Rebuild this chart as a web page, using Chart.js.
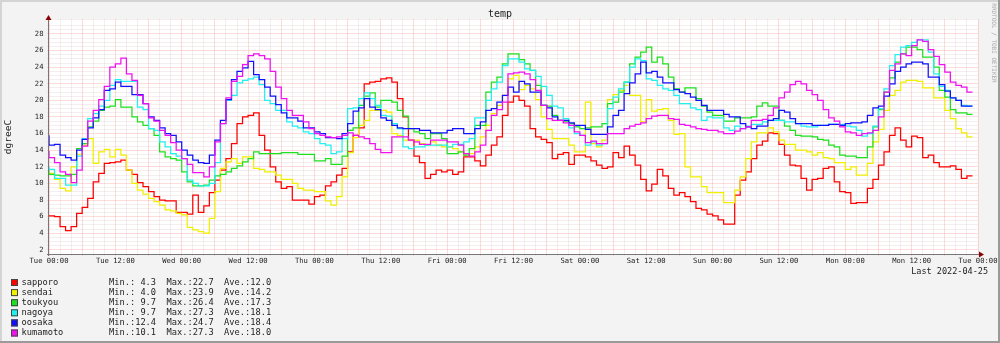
<!DOCTYPE html>
<html>
<head>
<meta charset="utf-8">
<script src="https://cdn.jsdelivr.net/npm/chart.js@4.4.1/dist/chart.umd.min.js"></script>
<style>
  body { margin: 0; background: #f3f3f3; }
  #wrap { position: relative; width: 1000px; height: 343px; }
</style>
</head>
<body>
<div id="wrap"><canvas id="nchart" width="1000" height="343"></canvas></div>
<script>
// hourly temperatures, Tue 00:00 -> Mon 23:00
const sapporo = [6.1,6.1,6.0,4.8,4.3,4.8,6.4,7.1,8.2,10.2,
 11.2,12.4,12.5,12.6,12.8,11.6,11.1,10.1,9.6,9.0,
 8.4,8.0,7.9,7.9,6.5,6.5,6.3,8.6,6.5,7.3,
 8.9,10.4,11.6,13.0,14.8,17.2,18.0,18.2,18.5,15.8,
 14.0,12.0,10.2,9.4,9.6,8.0,8.0,8.0,7.5,8.4,
 8.6,9.7,10.2,11.0,11.8,13.8,15.8,16.7,22.0,22.2,
 22.3,22.6,22.7,22.2,20.2,18.0,15.2,13.3,12.5,10.6,
 11.1,11.6,11.4,11.6,11.1,11.4,13.2,13.2,12.7,12.1,
 13.4,14.6,15.6,18.2,19.8,20.5,20.0,19.3,16.6,15.6,
 15.3,14.9,13.0,13.5,13.7,12.3,13.4,13.4,13.2,12.7,
 12.2,11.8,12.0,13.7,13.1,14.5,13.4,12.2,10.5,9.1,
 9.9,11.7,10.9,9.4,8.6,8.9,8.4,7.8,7.0,6.8,
 6.3,6.1,5.6,5.1,5.1,8.6,10.4,11.4,13.0,14.6,
 15.1,16.1,16.0,14.7,13.4,12.2,12.1,10.6,9.2,10.5,
 10.6,11.8,12.0,10.2,9.0,8.9,7.6,7.7,7.7,9.4,
 10.5,12.2,13.8,15.8,16.7,15.2,14.4,15.7,15.5,13.1,
 13.4,12.5,12.0,12.0,12.1,11.7,10.6,10.9];

const sendai = [11.4,11.2,10.5,9.4,9.1,12.0,13.5,14.6,15.4,12.4,
 13.8,14.1,13.2,14.1,13.4,11.6,10.0,9.2,8.7,8.2,
 7.8,7.4,6.8,6.7,6.4,6.2,4.7,4.4,4.2,4.0,
 5.8,9.0,11.8,12.6,13.0,12.4,13.2,13.2,11.8,11.7,
 11.4,11.4,11.0,10.5,10.5,10.0,9.4,9.2,9.2,9.0,
 9.0,7.9,7.4,8.4,10.8,13.7,15.5,17.0,17.6,18.8,
 18.8,18.8,18.6,16.0,15.8,15.2,15.2,15.2,14.8,14.6,
 15.0,14.6,14.4,14.4,14.2,13.8,13.4,13.6,14.4,15.6,
 17.0,18.4,19.4,20.6,22.6,23.0,21.3,21.8,21.4,20.1,
 18.0,16.5,15.4,15.4,15.4,14.6,13.8,13.8,19.8,14.8,
 14.4,15.2,20.1,20.7,21.2,21.8,20.6,20.6,17.4,20.1,
 18.7,18.9,19.0,17.6,15.9,16.0,12.0,10.8,10.8,9.6,
 8.9,8.9,8.9,7.7,7.7,9.2,10.8,13.0,15.0,16.1,
 16.1,16.7,16.2,15.2,14.7,14.7,14.0,14.0,13.8,13.4,
 13.7,13.1,13.0,12.5,12.5,11.7,12.0,11.0,11.0,12.4,
 15.0,16.5,18.8,20.6,21.2,22.2,22.4,22.4,22.3,21.5,
 21.5,20.3,20.3,18.8,17.8,16.6,16.1,15.6];

const toukyou = [11.6,11.1,11.0,10.9,10.9,11.1,14.2,14.8,16.8,17.5,
 18.8,19.2,19.3,20.1,19.2,19.2,18.0,17.4,17.0,16.6,
 15.8,13.8,13.2,13.0,12.8,11.4,10.2,9.7,9.7,9.8,
 10.4,10.9,11.1,11.4,11.8,12.1,12.6,13.0,13.8,13.6,
 13.6,13.6,13.6,13.7,13.7,13.7,13.5,13.5,13.5,12.7,
 12.7,13.0,12.3,12.3,13.3,16.4,16.7,19.4,20.5,20.9,
 19.2,20.0,20.0,19.8,18.8,18.1,16.6,16.2,16.0,15.4,
 16.0,16.0,15.4,13.6,13.6,13.8,13.4,14.2,17.0,17.0,
 21.0,22.2,22.8,24.4,25.6,25.6,24.9,24.4,23.6,21.8,
 19.4,19.3,18.2,17.6,17.5,17.2,16.8,16.6,16.7,16.8,
 16.8,17.2,19.6,19.8,21.0,22.2,24.4,25.2,25.8,26.4,
 24.6,25.2,24.4,22.8,21.4,21.0,21.5,21.5,20.2,19.3,
 18.6,18.2,18.2,17.5,17.5,17.9,17.9,17.9,18.0,19.3,
 19.7,19.3,19.3,17.6,16.9,16.4,15.8,15.7,15.7,15.6,
 15.3,15.2,14.6,14.4,13.4,13.3,13.3,13.1,13.1,14.4,
 16.8,18.9,21.0,22.7,24.6,25.6,26.4,26.4,26.1,25.2,
 25.2,24.0,21.2,20.4,18.9,18.5,18.5,18.3];

const nagoya = [12.0,11.7,10.6,10.6,9.8,9.8,13.3,15.4,17.8,18.4,
 19.3,20.0,21.8,22.5,22.3,22.3,22.3,19.2,18.9,16.6,
 16.4,15.0,14.4,13.6,13.3,13.0,10.4,10.0,9.7,9.7,
 10.0,12.5,17.2,20.0,20.6,22.1,22.4,22.6,22.8,21.9,
 20.0,19.6,18.8,18.8,17.4,16.9,16.7,16.2,16.0,15.4,
 14.8,14.6,13.6,13.8,15.4,19.0,19.1,20.2,20.9,20.2,
 19.4,18.2,18.1,17.2,16.6,14.4,14.2,14.4,14.4,14.6,
 14.6,14.6,14.6,14.4,14.7,14.7,15.0,15.4,17.9,17.9,
 20.0,21.4,22.2,24.2,25.0,25.0,24.6,23.8,23.6,22.9,
 21.7,20.6,19.3,19.1,17.8,16.7,16.0,15.8,14.6,15.0,
 14.6,14.8,19.0,20.4,21.4,22.2,24.0,25.0,24.8,22.6,
 22.4,21.8,21.4,21.2,20.6,19.6,19.6,19.1,18.9,17.6,
 18.0,17.9,17.9,16.7,16.4,16.9,16.6,16.9,17.1,17.1,
 17.4,17.6,17.6,17.6,17.4,17.4,17.2,16.9,16.8,16.8,
 17.0,17.0,17.1,17.1,17.1,16.9,16.8,16.4,15.7,16.0,
 16.9,19.0,21.4,24.2,25.5,26.4,26.6,27.0,27.3,27.3,
 25.8,23.2,21.7,21.2,20.3,20.0,19.4,19.3];

const oosaka = [15.8,14.6,14.7,13.4,13.1,12.8,14.0,15.3,16.7,17.9,
 18.9,21.2,21.4,22.2,21.7,21.7,20.7,20.7,19.6,18.0,
 17.6,16.7,16.0,15.8,15.0,14.0,13.4,12.8,12.5,12.4,
 13.4,15.2,17.6,20.1,22.5,23.5,23.9,24.7,23.1,22.5,
 21.6,20.5,19.5,18.5,17.9,17.9,17.5,16.7,16.7,16.2,
 16.0,15.5,15.5,15.4,16.0,17.2,18.7,19.1,20.2,19.2,
 18.9,17.9,17.6,17.0,16.7,16.6,16.6,16.6,16.4,16.4,
 16.1,16.1,16.1,16.4,16.6,16.6,16.0,16.0,16.6,17.4,
 18.8,19.0,19.8,20.6,21.6,21.0,22.3,22.0,21.0,21.0,
 19.4,19.1,18.0,17.6,17.6,17.3,17.0,17.0,16.5,15.9,
 15.9,15.9,16.8,18.2,18.8,20.8,22.1,23.2,24.6,23.3,
 23.5,22.8,22.1,22.1,21.3,21.0,20.8,20.4,20.0,19.4,
 18.8,18.8,18.8,18.3,18.0,18.0,17.2,16.8,16.6,16.9,
 16.9,17.6,17.8,18.8,18.6,17.8,17.2,17.2,17.2,17.0,
 17.0,17.0,17.1,17.1,17.0,17.2,17.3,17.3,17.4,18.2,
 19.1,19.3,20.5,22.0,23.5,24.0,24.4,24.6,24.6,24.4,
 22.8,22.8,21.9,21.1,20.3,20.0,19.3,19.3];

const kumamoto = [13.9,13.1,12.5,11.4,11.1,10.1,11.6,14.5,17.5,18.8,
 20.1,21.7,24.0,24.4,25.1,23.2,22.4,20.6,19.6,17.9,
 17.5,16.4,15.8,14.9,14.0,13.0,12.3,11.3,11.3,10.8,
 12.0,15.0,17.2,20.3,22.3,22.9,24.3,25.4,25.6,25.4,
 25.0,23.5,21.6,20.2,18.8,18.2,18.2,17.4,16.6,16.0,
 15.8,15.6,15.5,15.6,15.8,16.1,15.8,15.6,15.4,14.8,
 14.1,13.7,13.7,15.6,15.6,15.6,15.2,15.0,14.7,14.7,
 15.2,15.2,15.2,15.0,15.0,14.6,13.6,13.3,13.8,14.6,
 16.4,18.2,18.9,19.8,23.2,23.3,23.4,23.2,22.5,21.2,
 19.4,17.8,17.6,17.6,17.3,17.0,16.2,15.8,14.9,15.1,
 14.8,14.8,16.0,16.0,16.0,16.6,16.9,17.1,17.3,17.8,
 18.1,18.2,18.2,17.8,17.7,17.1,17.0,16.8,16.6,16.5,
 16.4,16.4,16.2,16.0,16.0,16.3,16.6,16.8,17.6,17.6,
 17.7,18.2,19.1,20.3,21.0,21.9,22.3,22.0,21.2,20.7,
 20.0,18.9,17.9,17.5,16.8,16.2,16.1,15.8,16.0,16.1,
 16.4,18.0,21.0,23.6,24.4,25.6,25.4,26.6,27.3,27.1,
 26.1,25.3,24.3,23.4,22.2,21.8,21.6,21.0];

const names = ["sapporo", "sendai", "toukyou", "nagoya", "oosaka", "kumamoto"];
const colors = ["#ff0000", "#f0f000", "#1fe01f", "#22f0f0", "#1010ff", "#f010f0"];
const minVals = [4.3, 4.0, 9.7, 9.7, 12.4, 10.1];
const maxVals = [22.7, 23.9, 26.4, 27.3, 24.7, 27.3];
const aveVals = [12.0, 14.2, 17.3, 18.1, 18.4, 18.0];
// one label every 12 hours
const xTickLabels = ["Tue 00:00","Tue 12:00","Wed 00:00","Wed 12:00","Thu 00:00","Thu 12:00",
  "Fri 00:00","Fri 12:00","Sat 00:00","Sat 12:00","Sun 00:00","Sun 12:00",
  "Mon 00:00","Mon 12:00","Tue 00:00"];

const series = [sapporo, sendai, toukyou, nagoya, oosaka, kumamoto];
const hours = sapporo.map((v, i) => i);
const mono = "'DejaVu Sans Mono', monospace";

const majorGrid = "rgba(255,110,110,0.24)";
const minorGrid = "rgba(200,170,170,0.2)";

const decor = {
  id: "decor",
  beforeDraw(chart) {
    const c = chart.ctx, a = chart.chartArea;
    c.save();
    c.fillStyle = "#f3f3f3";
    c.fillRect(0, 0, chart.width, chart.height);
    c.fillStyle = "#ffffff";
    c.fillRect(a.left, a.top, a.right - a.left, a.bottom - a.top);
    c.restore();
  },
  afterDraw(chart) {
    const c = chart.ctx, a = chart.chartArea;
    c.save();
    // axes + arrows
    c.strokeStyle = "#777";
    c.lineWidth = 1;
    c.beginPath();
    c.moveTo(a.left - 2, a.bottom + 0.5);
    c.lineTo(a.right + 3, a.bottom + 0.5);
    c.moveTo(a.left - 0.5, a.bottom + 2);
    c.lineTo(a.left - 0.5, a.top - 1);
    c.stroke();
    c.fillStyle = "#8b0000";
    c.beginPath();
    c.moveTo(a.right + 6, a.bottom + 0.5);
    c.lineTo(a.right + 1, a.bottom - 2.5);
    c.lineTo(a.right + 1, a.bottom + 3.5);
    c.fill();
    c.beginPath();
    c.moveTo(a.left - 0.5, a.top - 4);
    c.lineTo(a.left - 3.5, a.top + 1);
    c.lineTo(a.left + 2.5, a.top + 1);
    c.fill();

    // title
    c.fillStyle = "#222";
    c.font = "10px " + mono;
    c.textAlign = "center";
    c.textBaseline = "middle";
    c.fillText("temp", 500, 14);

    // vertical label
    c.save();
    c.translate(8.5, 137);
    c.rotate(-Math.PI / 2);
    c.font = "9.5px " + mono;
    c.fillText("dgreeC", 0, 0);
    c.restore();

    // watermark
    c.save();
    c.translate(993.5, 43);
    c.rotate(Math.PI / 2);
    c.font = "6px " + mono;
    c.fillStyle = "#aaaaaa";
    c.fillText("RRDTOOL / TOBI OETIKER", 0, 0);
    c.restore();

    c.font = "8.5px " + mono;
    c.textAlign = "right";
    c.fillText("Last 2022-04-25", 988, 272);

    // legend
    c.textAlign = "left";
    c.font = "8.7px " + mono;
    names.forEach((n, r) => {
      const y = 282.5 + r * 10.1;
      c.fillStyle = colors[r];
      c.fillRect(11, y - 3.5, 7, 7);
      c.strokeStyle = "#444";
      c.strokeRect(11.5, y - 3, 6, 6);
      c.fillStyle = "#222";
      c.fillText(n, 21.5, y);
      const s = "Min.:" + minVals[r].toFixed(1).padStart(4) +
                "  Max.:" + maxVals[r].toFixed(1).padStart(4) +
                "  Ave.:" + aveVals[r].toFixed(1).padStart(4);
      c.fillText(s, 109, y);
    });

    // frame shade
    c.fillStyle = "#d4d4d4";
    c.fillRect(0, 0, chart.width, 2);
    c.fillRect(0, 0, 2, chart.height);
    c.fillStyle = "#9a9a9a";
    c.fillRect(chart.width - 2, 0, 2, chart.height);
    c.fillRect(0, chart.height - 2, chart.width, 2);
    c.restore();
  }
};

new Chart(document.getElementById("nchart"), {
  type: "line",
  data: {
    labels: hours,
    datasets: series.map((d, i) => ({
      label: names[i],
      data: d,
      borderColor: colors[i],
      borderWidth: 1.25,
      pointRadius: 0,
      stepped: "after",
      fill: false,
      order: series.length - i
    }))
  },
  options: {
    responsive: false,
    animation: false,
    layout: { padding: { top: 19, right: 22, bottom: 0, left: 0 } },
    plugins: { legend: { display: false }, tooltip: { enabled: false } },
    scales: {
      x: {
        type: "linear",
        min: 0,
        max: 168,
        afterFit: s => { s.height = 89; },
        border: { display: false },
        grid: {
          color: ctx => (ctx.tick && ctx.tick.value % 6 === 0) ? majorGrid : minorGrid,
          drawTicks: true,
          tickLength: 2
        },
        ticks: {
          stepSize: 2,
          autoSkip: false,
          maxRotation: 0,
          maxTicksLimit: 500,
          padding: 1,
          color: "#222",
          font: { family: mono, size: 7.2 },
          callback: v => (v % 12 === 0 ? xTickLabels[v / 12] : "")
        }
      },
      y: {
        min: 1.5,
        max: 29.8,
        afterFit: s => { s.width = 49; },
        border: { display: false },
        grid: {
          color: ctx => (ctx.tick && ctx.tick.value % 2 === 0) ? majorGrid : minorGrid,
          drawTicks: true,
          tickLength: 2
        },
        ticks: {
          stepSize: 0.5,
          autoSkip: false,
          maxTicksLimit: 500,
          padding: 3.5,
          color: "#222",
          font: { family: mono, size: 7.2 },
          callback: v => (v % 2 === 0 ? String(v) : "")
        }
      }
    }
  },
  plugins: [decor]
});
</script>
</body>
</html>
